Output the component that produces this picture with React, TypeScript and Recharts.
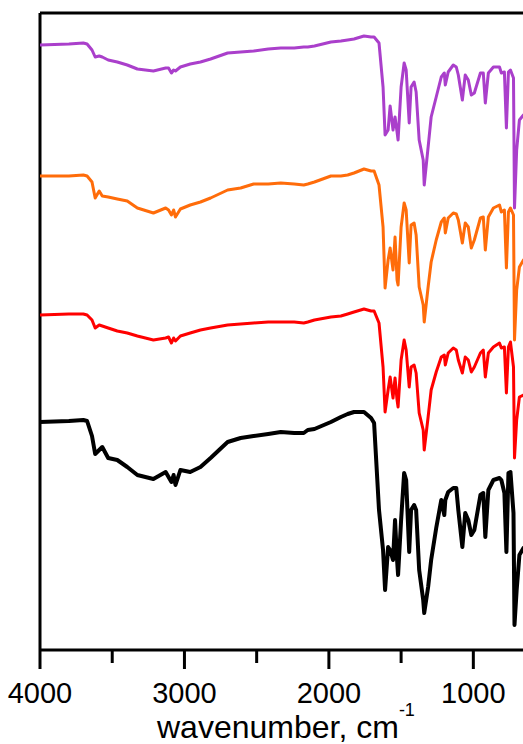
import React from "react";
import { LineChart, Line, XAxis, YAxis, ReferenceLine } from "recharts";

// wavenumber grid, cm-1
const wavenumbers = [
  4000, 3800, 3700, 3674, 3640, 3618, 3590, 3569, 3528, 3465, 3396, 3326, 3215, 3130, 3110, 3090,
  3075, 3062, 3028, 2960, 2889, 2819, 2701, 2611, 2521, 2420, 2333, 2240, 2174, 2146, 2100, 1986,
  1917, 1870, 1826, 1757, 1708, 1687, 1653, 1625, 1611, 1590, 1576, 1556, 1542, 1528, 1521, 1500,
  1479, 1465, 1444, 1431, 1410, 1396, 1375, 1347, 1340, 1313, 1292, 1257, 1222, 1201, 1194, 1174,
  1139, 1118, 1104, 1076, 1056, 1035, 1014, 993, 951, 931, 917, 896, 861, 819, 806, 785,
  771, 757, 743, 722, 715, 700, 681, 653, 640,
];

// stacked transmittance traces (offset, a.u.)
const purple = [
  605, 606, 607, 606, 600, 593, 594, 593, 590, 588, 585, 581, 579, 582, 582, 577,
  580, 579, 583, 586, 588, 591, 597, 598, 599, 601, 602, 602, 603, 603, 604, 608,
  609, 610, 611, 614, 613, 613, 607, 563, 515, 520, 544, 520, 533, 518, 510, 563,
  587, 580, 527, 563, 568, 558, 510, 490, 465, 503, 533, 553, 573, 577, 565, 578,
  585, 583, 575, 550, 575, 570, 555, 557, 577, 577, 547, 577, 583, 583, 577, 578,
  522, 578, 580, 572, 442, 500, 530, 535, 535,
];
const orange = [
  474, 474, 475, 474, 468, 452, 459, 454, 453, 451, 449, 442, 437, 442, 440, 435,
  440, 433, 441, 445, 448, 452, 460, 462, 466, 466, 467, 466, 465, 466, 468, 474,
  474, 475, 477, 481, 479, 479, 465, 423, 362, 390, 402, 380, 413, 370, 365, 423,
  447, 440, 387, 425, 427, 415, 363, 345, 328, 363, 388, 410, 428, 432, 417, 432,
  437, 436, 430, 407, 427, 423, 402, 410, 432, 433, 400, 433, 442, 445, 438, 440,
  382, 438, 442, 435, 310, 360, 383, 390, 390,
];
const red = [
  335, 336, 336, 335, 330, 322, 325, 324, 322, 319, 317, 314, 310, 312, 313, 307,
  312, 309, 314, 317, 320, 322, 325, 326, 327, 328, 328, 328, 327, 328, 330, 333,
  334, 336, 338, 341, 339, 339, 327, 283, 238, 260, 273, 252, 272, 250, 243, 290,
  310, 300, 263, 283, 285, 277, 237, 220, 200, 233, 260, 278, 293, 295, 285, 297,
  302, 300, 290, 277, 293, 290, 278, 283, 297, 300, 273, 297, 303, 307, 302, 303,
  257, 303, 308, 283, 192, 230, 253, 255, 255,
];
const black = [
  228, 229, 230, 229, 214, 196, 200, 203, 192, 190, 183, 175, 171, 178, 173, 168,
  175, 165, 180, 178, 183, 192, 208, 212, 214, 216, 218, 217, 217, 220, 221, 228,
  233, 236, 238, 238, 232, 227, 140, 100, 60, 103, 100, 90, 130, 90, 75, 130,
  177, 170, 98, 140, 145, 140, 80, 50, 37, 63, 90, 122, 150, 135, 150, 158,
  162, 162, 140, 103, 137, 130, 115, 120, 155, 157, 113, 160, 170, 172, 170, 157,
  98, 177, 178, 137, 25, 60, 95, 102, 102,
];

const xTicks = [4000, 3500, 3000, 2500, 2000, 1500, 1000];
const X_MIN = 400;
const X_MAX = 4000;
const Y_MAX = 637;

const data = wavenumbers.map((w, i) => ({
  w,
  purple: purple[i],
  orange: orange[i],
  red: red[i],
  black: black[i],
}));

const FONT = "'Liberation Sans', Arial, sans-serif";

const AxisTick = ({ x, y, payload }: any) => {
  const major = payload.value % 1000 === 0;
  return (
    <g>
      <line x1={x} x2={x} y1={y} y2={y + (major ? 19 : 13)} stroke="#000" strokeWidth={3} />
      {major && (
        <text x={x} y={y + 53} textAnchor="middle" fontSize={29} fontFamily={FONT} fill="#000">
          {payload.value}
        </text>
      )}
    </g>
  );
};

// axis title with a superscript exponent
const AxisTitle = ({ viewBox }: any) => (
  <text x={viewBox.x + 117} y={738} fontSize={32} fontFamily={FONT} fill="#000">
    wavenumber, cm<tspan fontSize={18} dy={-22}>-1</tspan>
  </text>
);

export default function App() {
  return (
    <div
      style={{
        position: "absolute",
        left: 0,
        top: 0,
        width: 523,
        height: 744,
        overflow: "hidden",
        background: "#fff",
      }}
    >
      <LineChart width={560} height={744} data={data} margin={{ top: 13, right: 0, left: 40, bottom: 0 }}>
        <XAxis
          dataKey="w"
          type="number"
          domain={[X_MIN, X_MAX]}
          reversed
          ticks={xTicks}
          interval={0}
          tickSize={0}
          tickMargin={0}
          tickLine={false}
          tick={<AxisTick />}
          axisLine={{ stroke: "#000", strokeWidth: 3 }}
          height={94}
          label={<AxisTitle />}
        />
        <YAxis type="number" domain={[0, Y_MAX]} hide />
        {/* frame: left and top edges */}
        <ReferenceLine x={X_MAX} stroke="#000" strokeWidth={3} ifOverflow="visible" />
        <ReferenceLine y={Y_MAX} stroke="#000" strokeWidth={3} ifOverflow="visible" />
        <Line dataKey="purple" stroke="#AA3FCB" strokeWidth={3} dot={false} isAnimationActive={false} strokeLinejoin="round" />
        <Line dataKey="orange" stroke="#FF6C0A" strokeWidth={3} dot={false} isAnimationActive={false} strokeLinejoin="round" />
        <Line dataKey="red" stroke="#FF0000" strokeWidth={3} dot={false} isAnimationActive={false} strokeLinejoin="round" />
        <Line dataKey="black" stroke="#000000" strokeWidth={4} dot={false} isAnimationActive={false} strokeLinejoin="round" />
      </LineChart>
    </div>
  );
}
